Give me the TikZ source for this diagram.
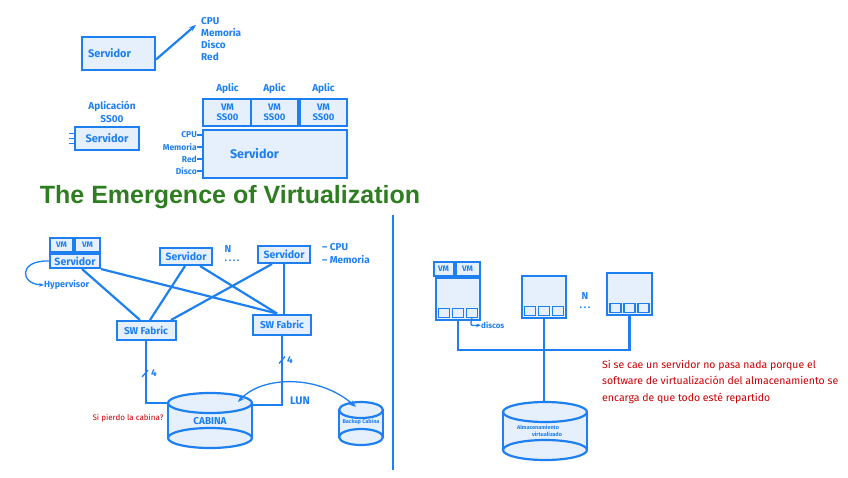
\documentclass[tikz,border=0pt]{standalone}
\usepackage{fontspec}
\setmainfont{Fira Sans}
\newfontfamily\titlefont{Liberation Sans}
\definecolor{SketchBlue}{HTML}{1E80F0}
\definecolor{PaleBlue}{HTML}{E6F0FD}
\definecolor{TitleGreen}{HTML}{2F7D21}
\definecolor{NoteRed}{HTML}{C80000}
\usetikzlibrary{arrows.meta,positioning}
% storage drum: x, top y, bottom y, x radius, y radius
\newcommand{\drawdrum}[5]{%
  \fill[PaleBlue] (#1-#4,#2) -- (#1-#4,#3)
        arc[start angle=180,end angle=360,x radius=#4pt,y radius=#5pt]
        -- (#1+#4,#2) -- cycle;
  \draw[wire] (#1-#4,#2) -- (#1-#4,#3) (#1+#4,#2) -- (#1+#4,#3);
  \draw[wire] (#1,#3) ellipse[x radius=#4pt,y radius=#5pt];
  \draw[wire,fill=PaleBlue] (#1,#2) ellipse[x radius=#4pt,y radius=#5pt];}
\newcommand{\fs}[1]{\fontsize{#1}{#1}\selectfont\bfseries}

\begin{document}
\begin{tikzpicture}[x=1pt,y=-1pt,
    box/.style={draw=SketchBlue,fill=PaleBlue,line width=2pt,text=SketchBlue,
                font=\fs{11},inner sep=1pt},
    wire/.style={draw=SketchBlue,line width=2.2pt},
    thinwire/.style={draw=SketchBlue,line width=1.3pt},
    note/.style={text=SketchBlue,font=\fs{10},inner sep=0pt},
    remark/.style={text=NoteRed,font=\fontsize{10.5}{16.5}\selectfont,inner sep=0pt},
    disk/.style={draw=SketchBlue,fill=PaleBlue,line width=1.5pt,
                 minimum width=11pt,minimum height=9pt,inner sep=0pt}]
  \useasboundingbox (0,0) rectangle (848,477);

  % one server, its resources
  \node[box,minimum width=73pt,minimum height=33pt,text width=69pt,align=left]
    (srvTop) at (118.5,53.5) {\hspace*{4pt}Servidor};
  \node[note,anchor=west] (cpuA) at (201,21) {CPU};
  \node[note,anchor=west] (memA) at (201,33) {Memoria};
  \node[note,anchor=west] (dskA) at (201,45) {Disco};
  \node[note,anchor=west] (redA) at (201,57) {Red};
  \draw[wire,-{Stealth[length=7pt]}] ([yshift=-6pt]srvTop.east) -- ([xshift=-5pt]cpuA.south west);

  % one application per server
  \node[note] (appA) at (112,106) {Aplicación};
  \node[note,below=4pt of appA] (ssA) {SS00};
  \node[box,minimum width=64pt,minimum height=23pt] (srvApp) at (107,138.5) {Servidor};
  \foreach \dy in {-5,0,5}
    \draw[thinwire] ([yshift=\dy pt]srvApp.west) -- ++(-5,0);

  % virtual machines on one server
  \node[box,minimum width=144pt,minimum height=48pt,font=\fs{12.5},text width=138pt,align=left]
    (srvBig) at (275,154) {\hspace*{24pt}Servidor};
  \node[box,minimum width=49pt,minimum height=27pt,align=center,font=\fs{9.5}] (vmA) at (227.5,112.5) {VM\\SS00};
  \node[box,minimum width=47pt,minimum height=27pt,align=center,font=\fs{9.5}] (vmB) at (274.5,112.5) {VM\\SS00};
  \node[box,minimum width=47pt,minimum height=27pt,align=center,font=\fs{9.5}] (vmC) at (323.5,112.5) {VM\\SS00};
  \foreach \vm in {vmA,vmB,vmC}
    \node[note,above=4pt of \vm] {Aplic};
  \foreach \lbl [count=\i] in {CPU,Memoria,Red,Disco} {
    \node[note,font=\fs{8.5},anchor=east] (res\i) at (197,123+12*\i) {\lbl};
    \draw[thinwire] (res\i.east) -- (res\i.east -| srvBig.west);
  }

  % title
  \node[font=\titlefont\bfseries\fontsize{25}{28}\selectfont,text=TitleGreen]
    (title) at (230,197) {The Emergence of Virtualization};
  \draw[wire] (393,215) -- (393,470);

  % servers, fabric and cabinet
  \node[box,minimum width=50pt,minimum height=14pt,font=\fs{10.5}] (hyp) at (75,261) {Servidor};
  \node[box,minimum width=23pt,minimum height=14pt,font=\fs{8}] (vmD) at (61.5,245) {VM};
  \node[box,minimum width=25pt,minimum height=14pt,font=\fs{8}] (vmE) at (87.5,245) {VM};
  \node[note,font=\fs{9},anchor=west] (hyplbl) at (44,285) {Hypervisor};
  \draw[thinwire,-{Stealth[length=5pt]}] (hyp.west) .. controls (18,260) and (20,284) .. (hyplbl.west);

  \node[box,minimum width=52pt,minimum height=17pt,font=\fs{10.5}] (srvM) at (186,256.5) {Servidor};
  \node[box,minimum width=52pt,minimum height=17pt,font=\fs{10.5}] (srvN) at (284,254.5) {Servidor};
  \node[note] (nA) at (228,249) {N};
  \node[note] (dotsA) at (232,261) {.\,.\,.\,.};
  \node[note,anchor=west] (cpuB) at (322,247) {-- CPU};
  \node[note,anchor=west] (memB) at (322,260) {-- Memoria};

  \node[box,minimum width=59pt,minimum height=19pt,font=\fs{10}] (fabA) at (146,330.5) {SW Fabric};
  \node[box,minimum width=58pt,minimum height=20pt,font=\fs{10}] (fabB) at (282,324.5) {SW Fabric};

  \draw[wire] ([xshift=7pt]hyp.south) -- ([xshift=-6pt]fabA.north);
  \draw[wire] (hyp.south east) -- ([xshift=-5pt]fabB.north);
  \draw[wire] ([xshift=-1pt]srvM.south) -- ([xshift=4pt]fabA.north);
  \draw[wire] ([xshift=14pt]srvM.south) -- ([xshift=-5pt]fabB.north);
  \draw[wire] ([xshift=-12pt]srvN.south) -- ([xshift=25pt]fabA.north);
  \draw[wire] (srvN.south) -- (srvN.south |- fabB.north);

  \drawdrum{210}{403}{438}{42}{10}
  \drawdrum{361}{410}{437}{22}{8}
  \coordinate (cabL) at (168,403);
  \coordinate (cabR) at (252,405);
  \coordinate (cabTop) at (238,402);
  \coordinate (bkpTop) at (356,407);
  \node[note] (cabina) at (210,421) {CABINA};
  \node[note,font=\fs{5.5}] (bkp) at (361,422) {Backup Cabina};

  \draw[wire] (fabA.south) |- (cabL);
  \draw[wire] (fabB.south) |- (cabR);
  \draw[thinwire] ([shift={(-4,36)}]fabA.south) -- ++(6,-7);
  \node[note] (fourA) at ([shift={(8,32)}]fabA.south) {4};
  \draw[thinwire] ([shift={(-3,28)}]fabB.south) -- ++(6,-7);
  \node[note] (fourB) at ([shift={(8,25)}]fabB.south) {4};
  \draw[thinwire,{Stealth[open,length=7pt]}-{Stealth[open,length=7pt]}]
    (cabTop) .. controls (262,376) and (318,374) .. (bkpTop);
  \node[note,font=\fs{11}] (lun) at (300,401) {LUN};
  \node[remark,font=\fontsize{8}{9}\selectfont] (lose) at (128,418) {Si pierdo la cabina?};

  % virtualized storage
  \node[box,minimum width=20pt,minimum height=14pt,font=\fs{8}] (vmF) at (443.5,269) {VM};
  \node[box,minimum width=24pt,minimum height=14pt,font=\fs{8}] (vmG) at (467.5,269) {VM};
  \node[box,minimum width=44pt,minimum height=42pt] (hostA) at (458,299) {};
  \node[box,minimum width=44pt,minimum height=42pt] (hostB) at (544,297) {};
  \node[box,minimum width=45pt,minimum height=42pt] (hostC) at (629.5,294) {};
  \foreach \h in {hostA,hostB,hostC}
    \foreach \dx [count=\j] in {-14,0,14}
      \node[disk] (\h-d\j) at ([xshift=\dx pt,yshift=8pt]\h.south) {};
  \node[note,font=\fs{8},anchor=west] (discos) at (481,325) {discos};
  \draw[thinwire,-{Stealth[length=5pt]}] (hostA-d3.south) .. controls (470,326) .. (discos.west);
  \node[note] (nB) at (585,296) {N};
  \node[note] (dotsB) at (585,308) {.\,.\,.};

  \coordinate (bus) at (544,350);
  \draw[wire] (hostA.south) |- (bus) -| (hostC.south);
  \draw[wire] (hostB.south) -- (bus);
  \drawdrum{545}{412}{450}{42}{10}
  \coordinate (storeTop) at (544,402);
  \draw[wire] (bus) -- (storeTop);
  \node[note,font=\fs{5.5},align=center] (store) at (538,431)
    {Almacenamiento\\[1pt]\hspace*{18pt}virtualizado};

  \node[remark,anchor=north west,align=left] (why) at (602,360)
    {Si se cae un servidor no pasa nada porque el\\
     software de virtualización del almacenamiento se\\
     encarga de que todo esté repartido};
\end{tikzpicture}
\end{document}
